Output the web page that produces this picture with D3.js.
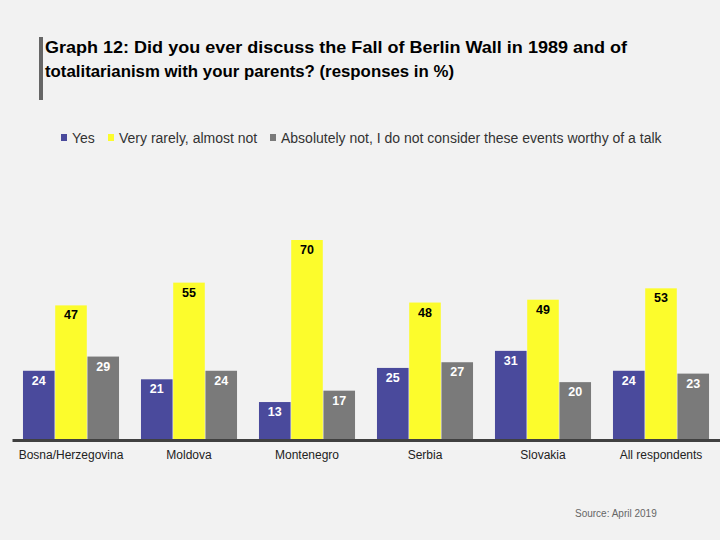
<!DOCTYPE html>
<html><head><meta charset="utf-8">
<script src="https://cdn.jsdelivr.net/npm/d3@7"></script>
<style>body{margin:0;background:#f2f2f2;}svg{display:block;font-family:"Liberation Sans",Arial,sans-serif;}</style>
</head><body><svg id="c" width="720" height="540"></svg>
<script>
const categories = ["Bosna/Herzegovina","Moldova","Montenegro","Serbia","Slovakia","All respondents"];
const seriesNames = ["Yes","Very rarely, almost not","Absolutely not, I do not consider these events worthy of a talk"];
const yesValues = [24,21,13,25,31,24];
const rarelyValues = [47,55,70,48,49,53];
const notValues = [29,24,17,27,20,23];
const seriesValues = [yesValues, rarelyValues, notValues];
const colors = ["#4a4a9c","#fcfc2c","#7a7a7a"];
const labelColors = ["#ffffff","#000000","#ffffff"];

const svg = d3.select("#c");
svg.append("rect").attr("width",720).attr("height",540).attr("fill","#f2f2f2");

// title
svg.append("rect").attr("x",39).attr("y",37).attr("width",4).attr("height",63).attr("fill","#666");
const title = svg.append("text").attr("font-weight","bold").attr("font-size",17).attr("fill","#000");
title.append("tspan").attr("x",45).attr("y",53).attr("textLength",582).attr("lengthAdjust","spacingAndGlyphs")
  .text("Graph 12: Did you ever discuss the Fall of Berlin Wall in 1989 and of");
title.append("tspan").attr("x",45).attr("y",77).attr("textLength",409).attr("lengthAdjust","spacingAndGlyphs")
  .text("totalitarianism with your parents? (responses in %)");

// legend
const legX = [61,108,270];
seriesNames.forEach((n,i)=>{
  svg.append("rect").attr("x",legX[i]).attr("y",134).attr("width",6).attr("height",7).attr("fill",colors[i]);
  svg.append("text").attr("x",legX[i]+11).attr("y",143).attr("font-size",14).attr("fill","#333").text(n);
});

const baseline = 439;
const y = d3.scaleLinear().domain([0,70]).range([baseline, 240]);
const x0 = d3.scaleBand().domain(categories).range([12,720]).paddingInner(0.186).paddingOuter(0.093);
const x1 = d3.scaleBand().domain([0,1,2]).range([0,x0.bandwidth()]).paddingInner(0.02);

const g = svg.append("g");
categories.forEach((c,ci)=>{
  seriesValues.forEach((vals,si)=>{
    const v = vals[ci];
    const bx = x0(c)+x1(si);
    g.append("rect").attr("x",bx).attr("y",y(v)).attr("width",x1.bandwidth()).attr("height",baseline-y(v)).attr("fill",colors[si]);
    g.append("text").attr("x",bx+x1.bandwidth()/2).attr("y",y(v)+14).attr("text-anchor","middle")
      .attr("font-size",12.5).attr("font-weight","bold").attr("fill",labelColors[si]).text(v);
  });
});

// axis
const axis = svg.append("g").attr("transform",`translate(0,${baseline+1})`)
  .call(d3.axisBottom(x0).tickSize(0).tickPadding(10));
axis.select(".domain").attr("stroke","#404040").attr("stroke-width",3);
axis.selectAll("text").attr("font-size",12).attr("fill","#222").attr("font-family","'Liberation Sans',Arial,sans-serif");

svg.append("text").attr("x",575).attr("y",517).attr("font-size",10).attr("fill","#666").text("Source: April 2019");
</script></body></html>
